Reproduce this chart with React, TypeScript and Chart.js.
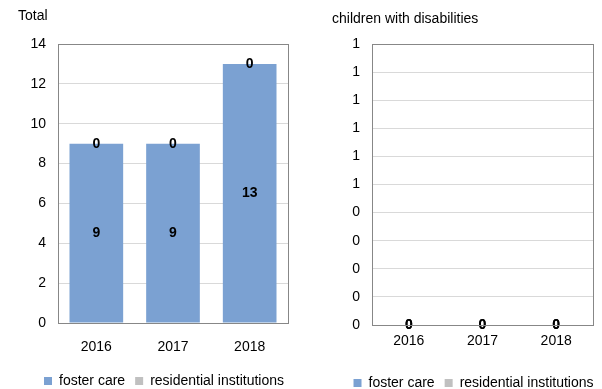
import React, { useEffect, useRef } from "react";
import { Chart, registerables } from "chart.js";

Chart.register(...registerables);

const years = ["2016", "2017", "2018"];
const seriesNames = ["foster care", "residential institutions"];
const totalFoster = [9, 9, 13];
const totalResidential = [0, 0, 0];
const disabFoster = [0, 0, 0];
const disabResidential = [0, 0, 0];
const totalTitle = "Total";
const disabTitle = "children with disabilities";

const FOSTER = "#7BA1D2";
const RESID = "#C0C0C0";
const FONT = "'Liberation Sans', Arial, sans-serif";
const FS = 14;

const labelPlugin = {
  id: "barLabels",
  afterDatasetsDraw(chart: any) {
    const ctx = chart.ctx;
    ctx.save();
    ctx.font = `bold ${FS}px ${FONT}`;
    ctx.fillStyle = "#000";
    ctx.textAlign = "center";
    ctx.textBaseline = "middle";
    chart.data.datasets.forEach((ds: any, di: number) => {
      const meta = chart.getDatasetMeta(di);
      meta.data.forEach((el: any, i: number) => {
        const v = ds.data[i];
        const y = di === 0 ? (el.y + el.base) / 2 : el.y;
        ctx.fillText(String(v), el.x, y);
      });
    });
    ctx.restore();
  },
};

const framePlugin = {
  id: "frame",
  afterDraw(chart: any) {
    const { left, right, top, bottom } = chart.chartArea;
    const ctx = chart.ctx;
    ctx.save();
    ctx.strokeStyle = "#878787";
    ctx.lineWidth = 1;
    ctx.strokeRect(Math.round(left) + 0.5, Math.round(top) + 0.5, Math.round(right - left), Math.round(bottom - top));
    ctx.restore();
  },
};

const legendShift = {
  id: "legendShift",
  afterLayout(chart: any, _args: any, opts: any) {
    const l = chart.legend;
    if (l && opts && opts.dx) {
      l.left += opts.dx;
      l.right += opts.dx;
    }
  },
};

function makeConfig(p: {
  title: string;
  foster: number[];
  resid: number[];
  yMax: number;
  yStep: number;
  round: boolean;
  titlePad: { top: number; bottom: number };
  padding: { left: number; right: number; top: number; bottom: number };
  yWidth: number;
  xHeight: number;
  xPad: number;
  dx: number;
}): any {
  return {
    type: "bar",
    data: {
      labels: years,
      datasets: [
        { label: seriesNames[0], data: p.foster, backgroundColor: FOSTER, barPercentage: 0.7, categoryPercentage: 1 },
        { label: seriesNames[1], data: p.resid, backgroundColor: RESID, barPercentage: 0.7, categoryPercentage: 1 },
      ],
    },
    options: {
      responsive: false,
      animation: false,
      events: [],
      layout: { padding: p.padding },
      plugins: {
        title: {
          display: true,
          text: p.title,
          align: "start",
          color: "#000",
          font: { family: FONT, size: FS, weight: "normal" },
          padding: p.titlePad,
        },
        legend: {
          display: true,
          position: "bottom",
          labels: {
            boxWidth: 8,
            boxHeight: 8,
            padding: 10,
            color: "#000",
            font: { family: FONT, size: FS },
          },
        },
        tooltip: { enabled: false },
        legendShift: { dx: p.dx },
      },
      scales: {
        x: {
          stacked: true,
          grid: { display: false, drawTicks: false },
          border: { display: true, color: "#878787" },
          ticks: { color: "#000", font: { family: FONT, size: FS }, padding: p.xPad },
          afterFit(s: any) {
            s.height = p.xHeight;
          },
        },
        y: {
          stacked: true,
          min: 0,
          max: p.yMax,
          grid: { color: "#D9D9D9", drawTicks: false },
          border: { display: true, color: "#878787" },
          ticks: {
            stepSize: p.yStep,
            color: "#000",
            font: { family: FONT, size: FS },
            padding: 12,
            callback: (v: number) => (p.round ? String(Math.round(v)) : String(v)),
          },
          afterFit(s: any) {
            s.width = p.yWidth;
          },
        },
      },
    },
    plugins: [labelPlugin, framePlugin, legendShift],
  };
}

function ChartCanvas({ config, width, height }: { config: any; width: number; height: number }) {
  const ref = useRef<HTMLCanvasElement | null>(null);
  useEffect(() => {
    if (!ref.current) return;
    const chart = new Chart(ref.current, config);
    return () => chart.destroy();
  }, []);
  return <canvas ref={ref} width={width} height={height} style={{ display: "block", width, height }} />;
}

export default function App() {
  const left = makeConfig({
    title: totalTitle,
    foster: totalFoster,
    resid: totalResidential,
    yMax: 14,
    yStep: 2,
    round: false,
    titlePad: { top: 7.6, bottom: 19.6 },
    padding: { left: 18, right: 12, top: 0, bottom: -9 },
    yWidth: 40,
    xHeight: 41,
    xPad: 15.6,
    dx: 11,
  });
  const right = makeConfig({
    title: disabTitle,
    foster: disabFoster,
    resid: disabResidential,
    yMax: 1,
    yStep: 0.1,
    round: true,
    titlePad: { top: 11.1, bottom: 16.1 },
    padding: { left: 32, right: 9, top: 0, bottom: -11 },
    yWidth: 40,
    xHeight: 41,
    xPad: 7.6,
    dx: 11,
  });
  return (
    <div style={{ position: "absolute", left: 0, top: 0, width: 602, height: 389, display: "flex", background: "#fff", overflow: "hidden" }}>
      <ChartCanvas config={left} width={300} height={389} />
      <ChartCanvas config={right} width={302} height={389} />
    </div>
  );
}
